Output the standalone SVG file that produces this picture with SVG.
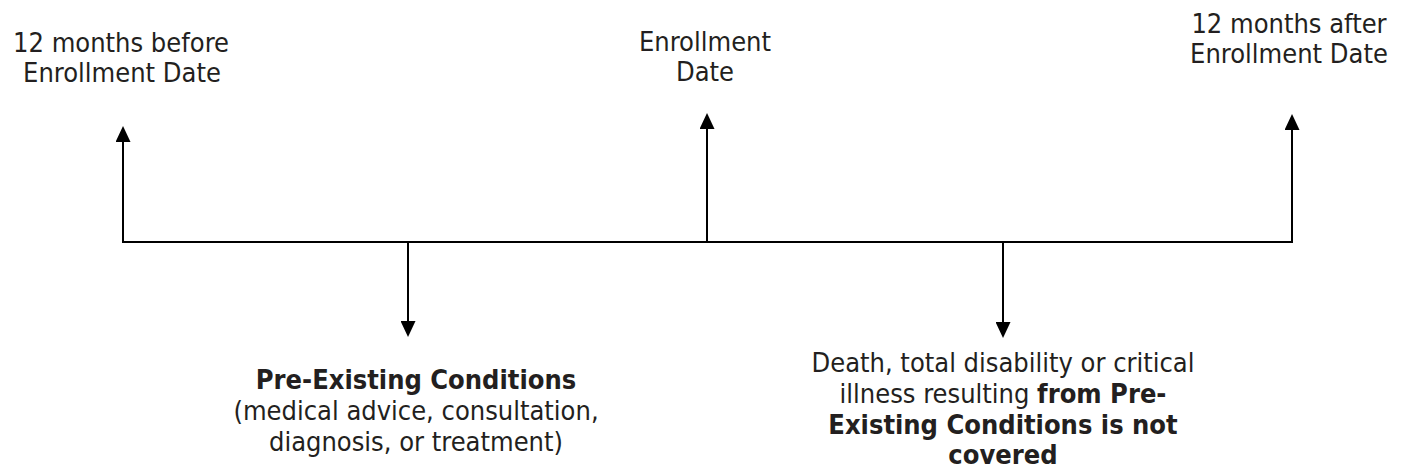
<svg xmlns="http://www.w3.org/2000/svg" width="1405" height="470" viewBox="0 0 1405 470">
  <style>
    .t { font-family: "DejaVu Sans Condensed", "DejaVu Sans", sans-serif; font-stretch: condensed; font-size: 27px; fill: #231f20; text-anchor: middle; }
    .b { font-weight: bold; }
    .ln { stroke: #000; stroke-width: 2; fill: none; }
  </style>
  <defs>
    <marker id="ah" viewBox="0 0 16 15" refX="0" refY="7.5" markerWidth="16" markerHeight="15" markerUnits="userSpaceOnUse" orient="auto">
      <path d="M0,0 L16,7.5 L0,15 z" fill="#000"/>
    </marker>
  </defs>
  <rect width="1405" height="470" fill="#fff"/>

  <g id="connectors">
    <line class="ln" x1="122" y1="242" x2="1293" y2="242"/>
    <line class="ln" x1="123" y1="243" x2="123" y2="142" marker-end="url(#ah)"/>
    <line class="ln" x1="707" y1="242" x2="707" y2="129" marker-end="url(#ah)"/>
    <line class="ln" x1="1292" y1="243" x2="1292" y2="130" marker-end="url(#ah)"/>
    <line class="ln" x1="408" y1="242" x2="408" y2="321" marker-end="url(#ah)"/>
    <line class="ln" x1="1003" y1="242" x2="1003" y2="322" marker-end="url(#ah)"/>
  </g>

  <g id="before">
    <text class="t" x="121" y="52">12 months before</text>
    <text class="t" x="122" y="82">Enrollment Date</text>
  </g>
  <g id="enrollment">
    <text class="t" x="705" y="51">Enrollment</text>
    <text class="t" x="705" y="81">Date</text>
  </g>
  <g id="after">
    <text class="t" x="1289" y="33">12 months after</text>
    <text class="t" x="1289" y="63">Enrollment Date</text>
  </g>
  <g id="preexisting">
    <text class="t b" x="416" y="389">Pre-Existing Conditions</text>
    <text class="t" x="416" y="420">(medical advice, consultation,</text>
    <text class="t" x="416" y="451">diagnosis, or treatment)</text>
  </g>
  <g id="notcovered">
    <text class="t" x="1003" y="372">Death, total disability or critical</text>
    <text class="t" x="1003" y="403">illness resulting <tspan class="b">from Pre-</tspan></text>
    <text class="t b" x="1003" y="434">Existing Conditions is not</text>
    <text class="t b" x="1003" y="464">covered</text>
  </g>
</svg>
